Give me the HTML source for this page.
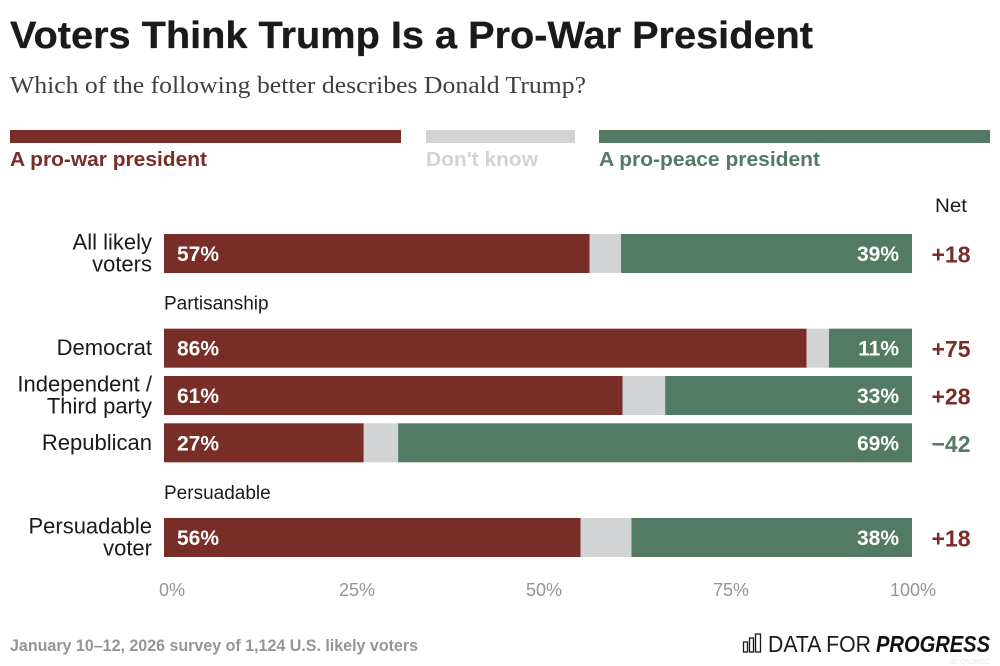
<!DOCTYPE html>
<html lang="en">
<head>
<meta charset="utf-8">
<title>Voters Think Trump Is a Pro-War President</title>
<style>
html,body{margin:0;padding:0;background:#fff;width:1000px;height:666px;overflow:hidden}
svg{display:block;font-family:"Liberation Sans",sans-serif}
</style>
</head>
<body>
<svg id="chart" xmlns="http://www.w3.org/2000/svg" width="1000" height="666" viewBox="0 0 1000 666">
  <rect width="1000" height="666" fill="#fff"/>
  <text x="10" y="48" font-size="38" font-weight="700" fill="#1a1a1a" stroke="#1a1a1a" stroke-width="0.3" textLength="803" lengthAdjust="spacingAndGlyphs">Voters Think Trump Is a Pro-War President</text>
  <text x="10" y="93" font-family="'Liberation Serif',serif" font-size="24" fill="#404040" textLength="576" lengthAdjust="spacingAndGlyphs">Which of the following better describes Donald Trump?</text>

  <g>
    <rect x="10" y="130" width="391" height="13" fill="#782d26"/>
    <text x="10" y="166" font-size="20" font-weight="700" fill="#782d26" textLength="197" lengthAdjust="spacingAndGlyphs">A pro-war president</text>
    <rect x="426" y="130" width="149" height="13" fill="#d1d3d4"/>
    <text x="426" y="166" font-size="20" font-weight="700" fill="#d1d3d4" textLength="112" lengthAdjust="spacingAndGlyphs">Don't know</text>
    <rect x="599" y="130" width="391" height="13" fill="#537a65"/>
    <text x="599" y="166" font-size="20" font-weight="700" fill="#537a65" textLength="221" lengthAdjust="spacingAndGlyphs">A pro-peace president</text>
  </g>

  <text x="951" y="212" font-size="19" fill="#1a1a1a" text-anchor="middle" textLength="32" lengthAdjust="spacingAndGlyphs">Net</text>

  <g id="rows"></g>
  <g id="x-axis"></g>

  <text x="10" y="651" font-size="17" font-weight="700" fill="#939598" textLength="408" lengthAdjust="spacingAndGlyphs">January 10–12, 2026 survey of 1,124 U.S. likely voters</text>

  <g>
    <g fill="none" stroke="#1a1a1a" stroke-width="1.3">
      <rect x="743.5" y="642" width="4" height="10"/>
      <rect x="749.5" y="638" width="4" height="14"/>
      <rect x="755.5" y="634" width="5" height="18"/>
    </g>
    <text x="768" y="652" font-size="23" fill="#1a1a1a" textLength="103" lengthAdjust="spacingAndGlyphs">DATA FOR</text>
    <text x="876" y="652" font-size="23" font-weight="700" font-style="italic" fill="#111" textLength="114" lengthAdjust="spacingAndGlyphs">PROGRESS</text>
  </g>
  <text x="990" y="664" font-size="7" fill="#e6e6e6" text-anchor="end">ID: QNJRGC</text>
</svg>

<script>
const categories = ["All likely|voters", "Democrat", "Independent /|Third party", "Republican", "Persuadable|voter"];
const rowGroups = [0, 1, 1, 1, 2];
const groupHeadings = ["", "Partisanship", "Persuadable"];
const proWar = [56.9, 85.9, 61.3, 26.7, 55.7];
const proPeace = [38.9, 11.1, 33.0, 68.7, 37.5];
const warLabels = ["57%", "86%", "61%", "27%", "56%"];
const peaceLabels = ["39%", "11%", "33%", "69%", "38%"];
const netValues = ["+18", "+75", "+28", "−42", "+18"];
const netSigns = [1, 1, 1, -1, 1];
const axisTicks = [0, 25, 50, 75, 100];
const axisLabels = ["0%", "25%", "50%", "75%", "100%"];

const WAR = "#782d26", UNSURE = "#d1d3d4", PEACE = "#537a65";
const NS = "http://www.w3.org/2000/svg";
const PLOT_LEFT = 164, PLOT_RIGHT = 912, ROW_TOP = 234, ROW_STEP = 47.33, BAR_H = 39;
const xScale = v => PLOT_LEFT + (PLOT_RIGHT - PLOT_LEFT) * v / 100;
const yScale = (i, g) => ROW_TOP + ROW_STEP * (i + g);

function svgEl(tag, attrs, text) {
  const el = document.createElementNS(NS, tag);
  for (const k in attrs) el.setAttribute(k, attrs[k]);
  if (text !== undefined) el.textContent = text;
  return el;
}

const rowsLayer = document.getElementById("rows");
const axisLayer = document.getElementById("x-axis");

categories.forEach((cat, i) => {
  const y = yScale(i, rowGroups[i]);
  const mid = y + BAR_H / 2;
  const slug = cat.replace(/[^A-Za-z]+/g, "-").toLowerCase();

  if (i === 0 || rowGroups[i] !== rowGroups[i - 1]) {
    const heading = groupHeadings[rowGroups[i]];
    if (heading) {
      const h = svgEl("text", {x: PLOT_LEFT, y: y - 19, "font-size": 19, fill: "#1a1a1a"}, heading);
      
      
      rowsLayer.appendChild(h);
    }
  }

  const lines = cat.split("|");
  lines.forEach((line, j) => {
    const ly = mid + 7 + (j - (lines.length - 1) / 2) * 22;
    const t = svgEl("text", {x: 152, y: ly, "font-size": 22, fill: "#1a1a1a", "text-anchor": "end"}, line);
    
    
    rowsLayer.appendChild(t);
  });

  const warEnd = xScale(proWar[i]);
  const peaceStart = xScale(100 - proPeace[i]);

  const w = svgEl("rect", {x: PLOT_LEFT, y: y, width: warEnd - PLOT_LEFT, height: BAR_H, fill: WAR});
  
  
  rowsLayer.appendChild(w);

  const u = svgEl("rect", {x: warEnd, y: y, width: peaceStart - warEnd, height: BAR_H, fill: UNSURE});
  
  
  rowsLayer.appendChild(u);

  const p = svgEl("rect", {x: peaceStart, y: y, width: PLOT_RIGHT - peaceStart, height: BAR_H, fill: PEACE});
  
  
  rowsLayer.appendChild(p);

  const wl = svgEl("text", {x: PLOT_LEFT + 13, y: mid + 7.5, "font-size": 21, "font-weight": 700, fill: "#fff"}, warLabels[i]);
  
  
  rowsLayer.appendChild(wl);

  const pl = svgEl("text", {x: PLOT_RIGHT - 13, y: mid + 7.5, "font-size": 21, "font-weight": 700, fill: "#fff", "text-anchor": "end"}, peaceLabels[i]);
  
  
  rowsLayer.appendChild(pl);

  const n = svgEl("text", {x: 951, y: mid + 9, "font-size": 23, "font-weight": 700, fill: netSigns[i] > 0 ? WAR : PEACE, "text-anchor": "middle"}, netValues[i]);
  
  
  rowsLayer.appendChild(n);
});

axisTicks.forEach((tick, i) => {
  const last = i === axisTicks.length - 1;
  const first = i === 0;
  const tx = first ? xScale(tick) - 5 : last ? xScale(tick) + 24 : xScale(tick) + 6;
  const anchor = first ? "start" : last ? "end" : "middle";
  const t = svgEl("text", {x: tx, y: 596, "font-size": 18, fill: "#939598", "text-anchor": anchor}, axisLabels[i]);
  
  
  axisLayer.appendChild(t);
});
</script>
</body>
</html>
